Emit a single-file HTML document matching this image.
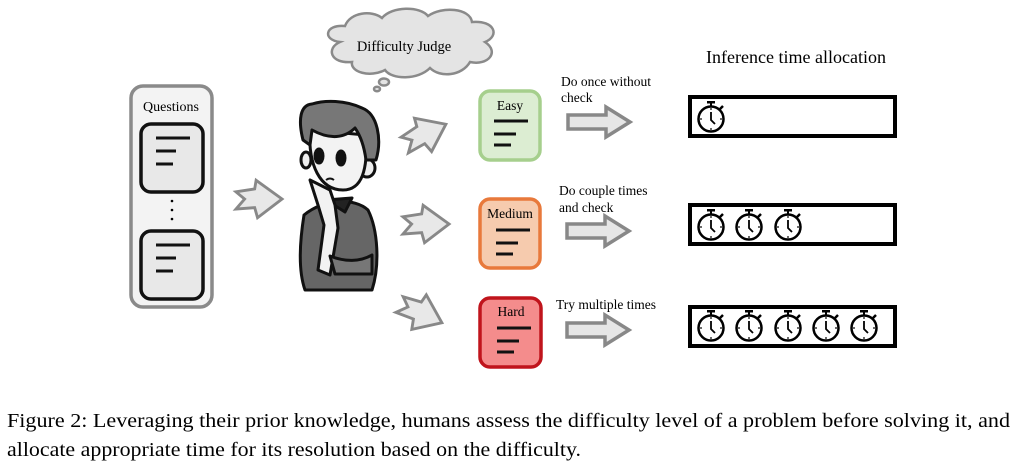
<!DOCTYPE html>
<html><head><meta charset="utf-8"><style>
html,body{margin:0;padding:0;background:#fff;width:1016px;height:468px;overflow:hidden}
svg{display:block}
text{font-family:"Liberation Serif",serif;fill:#000}
</style></head><body>
<svg width="1016" height="468" viewBox="0 0 1016 468" xmlns="http://www.w3.org/2000/svg">
<defs>
<g id="sw">
  <rect x="-4" y="-18" width="8" height="2.5" fill="#000"/>
  <rect x="-1" y="-16" width="2" height="4" fill="#000"/>
  <line x1="9" y1="-10" x2="12" y2="-13" stroke="#000" stroke-width="2.5"/>
  <circle r="12.5" fill="#fff" stroke="#000" stroke-width="2.5"/>
  <path d="M0,-7 L0,1 L4,5" fill="none" stroke="#000" stroke-width="1.8"/>
  <circle cx="0" cy="-10" r="0.9"/><circle cx="0" cy="10" r="0.9"/><circle cx="-10" cy="0" r="0.9"/><circle cx="10" cy="0" r="0.9"/>
</g>
<g id="notch"><polygon points="-32,-10 -6,-14 -4,-26 32,0 -2,26 -6,12 -32,14 -20,0" fill="#e8e8e8" stroke="#888" stroke-width="4" stroke-linejoin="miter"/></g>
<g id="blk"><polygon points="0,-7 38,-7 38,-15 62,0 38,15 38,7 0,7" fill="#e6e6e6" stroke="#888" stroke-width="3.5"/></g>
<g id="lines"><line x1="0" y1="0" x2="34" y2="0" stroke="#111" stroke-width="3"/><line x1="0" y1="13" x2="22" y2="13" stroke="#111" stroke-width="3"/><line x1="0" y1="24" x2="17" y2="24" stroke="#111" stroke-width="3"/></g>
</defs>

<!-- Questions -->
<rect x="131" y="86" width="81" height="221" rx="12" fill="#f3f3f3" stroke="#8a8a8a" stroke-width="3.5"/>
<text x="171" y="111" font-size="14" text-anchor="middle">Questions</text>
<rect x="141" y="124" width="62" height="68" rx="10" fill="#e8e8e8" stroke="#111" stroke-width="3.5"/>
<g transform="translate(156,138)"><line x1="0" y1="0" x2="34" y2="0" stroke="#111" stroke-width="3"/><line x1="0" y1="13" x2="20" y2="13" stroke="#111" stroke-width="3"/><line x1="0" y1="26" x2="17" y2="26" stroke="#111" stroke-width="3"/></g>
<circle cx="172" cy="201" r="1.3"/><circle cx="172" cy="210" r="1.3"/><circle cx="172" cy="219" r="1.3"/>
<rect x="141" y="231" width="62" height="68" rx="10" fill="#e8e8e8" stroke="#111" stroke-width="3.5"/>
<g transform="translate(156,245)"><line x1="0" y1="0" x2="34" y2="0" stroke="#111" stroke-width="3"/><line x1="0" y1="13" x2="20" y2="13" stroke="#111" stroke-width="3"/><line x1="0" y1="26" x2="17" y2="26" stroke="#111" stroke-width="3"/></g>

<!-- notched arrows -->
<g transform="translate(259,199) scale(0.72)"><use href="#notch"/></g>
<g transform="translate(425,134) rotate(-25) scale(0.72)"><use href="#notch"/></g>
<g transform="translate(426,224) scale(0.72)"><use href="#notch"/></g>
<g transform="translate(421,313) rotate(25) scale(0.72)"><use href="#notch"/></g>

<!-- cloud -->
<g fill="#e4e4e4" stroke="#8a8a8a" stroke-width="2.5">
<path d="M340,42 C322,40 325,24 345,26 C350,12 372,10 382,18 C392,6 420,6 428,16 C442,6 470,8 472,22 C495,20 500,36 485,42 C500,52 488,66 470,62 C462,76 440,78 430,68 C418,80 392,80 385,70 C370,78 350,72 352,62 C330,64 326,48 340,42 Z"/>
<ellipse cx="384" cy="82" rx="5" ry="3.5"/>
<ellipse cx="377" cy="89" rx="3" ry="2.2"/>
</g>
<text x="404" y="51" font-size="14.5" text-anchor="middle">Difficulty Judge</text>

<!-- person -->
<g stroke="#111" stroke-width="3" stroke-linejoin="round">
  <path d="M304,215 C300,240 298,270 305,290 L372,290 C380,265 378,230 368,210 C355,198 325,198 304,215 Z" fill="#666"/>
  <path d="M326,200 L345,212 L352,198 Z" fill="#222"/>
  <path d="M310,180 L318,205 L324,225 L318,270 L330,275 L338,228 L335,205 L330,190 Z" fill="#f2f2f2"/>
  <ellipse cx="306" cy="160" rx="5" ry="8" fill="#eee"/>
  <ellipse cx="367" cy="168" rx="8" ry="9" fill="#eee"/>
  <path d="M310,130 C308,165 320,190 343,190 C362,190 368,170 366,135 Z" fill="#f3f3f3"/>
  <path d="M303,140 C298,120 300,105 312,104 C325,100 345,100 362,108 C378,114 382,140 376,160 L366,160 C364,145 360,135 355,128 C345,138 330,140 312,130 L310,145 Z" fill="#777"/>
  <ellipse cx="319" cy="156" rx="4" ry="7" fill="#111"/>
  <ellipse cx="341" cy="158" rx="4" ry="7" fill="#111"/>
  <path d="M330,256 C345,262 360,262 372,255 L372,274 L335,274 Z" fill="#777"/>
</g>
<path d="M326,180 Q330,177 334,180" stroke="#111" stroke-width="2" fill="none"/>

<!-- difficulty boxes -->
<rect x="480" y="91" width="60" height="69" rx="10" fill="#dcedd2" stroke="#a6cf8d" stroke-width="3.5"/>
<text x="510" y="110" font-size="13.5" text-anchor="middle">Easy</text>
<g transform="translate(494,121)"><use href="#lines"/></g>
<rect x="480" y="199" width="60" height="69" rx="10" fill="#f6cbae" stroke="#e8793b" stroke-width="3.5"/>
<text x="510" y="218" font-size="13.5" text-anchor="middle">Medium</text>
<g transform="translate(496,230)"><use href="#lines"/></g>
<rect x="480" y="298" width="61" height="69" rx="10" fill="#f48c8c" stroke="#c0141c" stroke-width="3.5"/>
<text x="511" y="316" font-size="13.5" text-anchor="middle">Hard</text>
<g transform="translate(497,328)"><use href="#lines"/></g>

<!-- labels -->
<text x="561" y="86" font-size="13.5">Do once without</text>
<text x="561" y="102" font-size="13.5">check</text>
<text x="559" y="195" font-size="13.5">Do couple times</text>
<text x="559" y="212" font-size="13.5">and check</text>
<text x="556" y="309" font-size="13.5">Try multiple times</text>

<!-- block arrows -->
<g transform="translate(568,122)"><use href="#blk"/></g>
<g transform="translate(567,231)"><use href="#blk"/></g>
<g transform="translate(567,330)"><use href="#blk"/></g>

<text x="796" y="63" font-size="18" text-anchor="middle">Inference time allocation</text>

<!-- bars -->
<rect x="690" y="97" width="205" height="39" fill="#fff" stroke="#000" stroke-width="4"/>
<rect x="690" y="205" width="205" height="39" fill="#fff" stroke="#000" stroke-width="4"/>
<rect x="690" y="307" width="205" height="39" fill="#fff" stroke="#000" stroke-width="4"/>
<use href="#sw" x="711" y="119"/>
<use href="#sw" x="711" y="227"/><use href="#sw" x="749" y="227"/><use href="#sw" x="788" y="227"/>
<use href="#sw" x="711" y="328"/><use href="#sw" x="749" y="328"/><use href="#sw" x="788" y="328"/><use href="#sw" x="826" y="328"/><use href="#sw" x="864" y="328"/>

<!-- caption -->
<text x="7" y="427" font-size="20" textLength="1003" lengthAdjust="spacingAndGlyphs">Figure 2: Leveraging their prior knowledge, humans assess the difficulty level of a problem before solving it, and</text>
<text x="7" y="456" font-size="20" textLength="574" lengthAdjust="spacingAndGlyphs">allocate appropriate time for its resolution based on the difficulty.</text>
</svg>
</body></html>
